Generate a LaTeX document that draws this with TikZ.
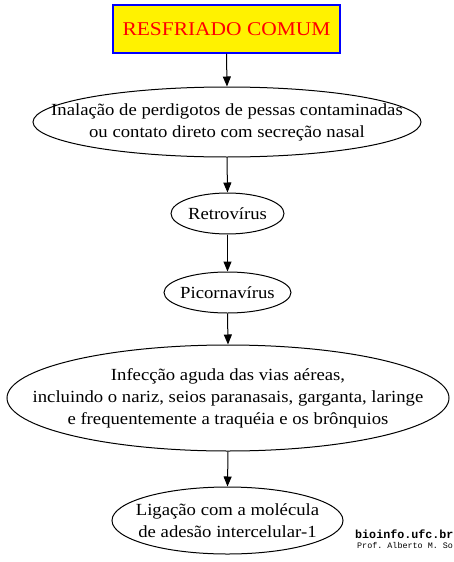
\documentclass[tikz,border=0pt]{standalone}
\usepackage{fontspec}
\setmainfont{Liberation Serif}[FakeStretch=1.1]
\setmonofont{Liberation Mono}
\usetikzlibrary{shapes.geometric,arrows.meta}
\begin{document}
\begin{tikzpicture}[x=1pt,y=-1pt,
  el/.style={draw,ellipse,inner sep=0pt,line width=1pt},
  txt/.style={align=center,inner sep=0pt,font=\fontsize{17}{22}\selectfont},
  arr/.style={-{Triangle[length=10pt,width=8pt]},line width=1pt}]
\useasboundingbox[fill=white] (0,0) rectangle (453,562);
\node[draw=blue,fill=yellow,line width=1.2pt,minimum width=227pt,minimum height=48pt,inner sep=0pt,text=red,font=\fontsize{19.5}{22}\selectfont] (title) at (226.5,29) {RESFRIADO COMUM};
\node[el,minimum width=388pt,minimum height=70pt] (e1) at (227,122) {};
\node[txt] (t1) at (e1.center) {Inalação de perdigotos de pessas contaminadas\\ou contato direto com secreção nasal};
\node[el,minimum width=113pt,minimum height=41pt] (e2) at (227.5,213.5) {};
\node[txt] (t2) at (e2.center) {Retrovírus};
\node[el,minimum width=127pt,minimum height=41pt] (e3) at (227.5,292.5) {};
\node[txt] (t3) at (e3.center) {Picornavírus};
\node[el,minimum width=442pt,minimum height=106pt] (e4) at (228,398) {};
\node[txt] (t4) at (e4.center) {Infecção aguda das vias aéreas,\\incluindo o nariz, seios paranasais, garganta, laringe\\e frequentemente a traquéia e os brônquios};
\node[el,minimum width=231pt,minimum height=67pt] (e5) at (227.5,520.5) {};
\node[txt] (t5) at (e5.center) {Ligação com a molécula\\de adesão intercelular-1};
\draw[arr] (title.south) -- (e1.north);
\draw[arr] (e1.south) -- (e2.north);
\draw[arr] (e2.south) -- (e3.north);
\draw[arr] (e3.south) -- (e4.north);
\draw[arr] (e4.south) -- (e5.north);
\node[anchor=base west,inner sep=0pt,font=\ttfamily\bfseries\fontsize{11.7}{12}\selectfont] (f1) at (355,538) {bioinfo.ufc.br};
\node[anchor=base west,inner sep=0pt,font=\ttfamily\fontsize{8.4}{9}\selectfont] (f2) at (357,548) {Prof. Alberto M. So};
\end{tikzpicture}
\end{document}
